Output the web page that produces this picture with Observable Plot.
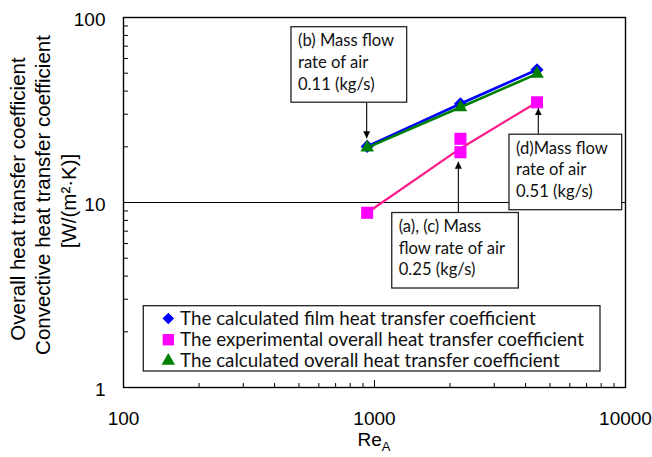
<!DOCTYPE html>
<html><head><meta charset="utf-8">
<script src="https://cdn.jsdelivr.net/npm/d3@7"></script>
<script src="https://cdn.jsdelivr.net/npm/@observablehq/plot@0.6"></script>
<style>body{margin:0;background:#fff;} svg{display:block}</style>
</head><body><div id="chart"></div>
<script>
// ---- data ----
const reA = [935, 2200, 4440];
const filmCoef = [20.1, 34.2, 52.2];          // calculated film heat transfer coefficient
const overallCalc = [19.8, 32.7, 49.6];       // calculated overall heat transfer coefficient
const reExp = [935, 2200, 2200, 4440];
const overallExp = [8.8, 22.1, 18.7, 34.8];   // experimental overall heat transfer coefficient
const expTrend = [8.8, 19.6, 34.8];           // trend line through the experimental points
const seriesNames = [
  "The calculated film heat transfer coefficient",
  "The experimental overall heat transfer coefficient",
  "The calculated overall heat transfer coefficient"
];
const xTickValues = [100, 1000, 10000];
const yTickValues = [1, 10, 100];
const yTitleLines = ["Overall heat transfer coefficient", "Convective heat transfer coefficient", "[W/(m²·K)]"];
const noteLines = [
  ["(b) Mass flow", "rate of air", "0.11 (kg/s)"],
  ["(a), (c) Mass", "flow rate of air", "0.25 (kg/s)"],
  ["(d)Mass flow", "rate of air", "0.51 (kg/s)"]
];
const noteRe = [935, 2200, 4440];
const noteValue = [20.1, 18.7, 34.8];

// ---- styling / layout ----
const BLUE = "#0000ff", MAGENTA = "#ff00ff", GREEN = "#008000", PINK = "#ff1a8c";
const CAL = "Lato, 'Open Sans', sans-serif";
const ARIAL = "'Liberation Sans', Arial, sans-serif";
const W = 652, H = 457, ML = 123, MR = 27, MT = 17, MB = 70;
const PW = W - ML - MR, PH = H - MT - MB;
const noteLayout = [
  {dx: -75.7, dy: -119.2, w: 115.7, ax: 0, tip: -7.6},
  {dx: -68.2, dy: 60.8, w: 126.6, ax: -1.6, tip: 10},
  {dx: -27.5, dy: 32.4, w: 112.7, ax: 1.8, tip: 6.5}
];

const minorX = [], minorY = [];
for (const d of [100, 1000]) for (let k = 2; k <= 9; k++) minorX.push(d * k);
for (const d of [1, 10]) for (let k = 2; k <= 9; k++) minorY.push(d * k);

const film = reA.map((x, i) => ({x, y: filmCoef[i]}));
const calc = reA.map((x, i) => ({x, y: overallCalc[i]}));
const exp = reExp.map((x, i) => ({x, y: overallExp[i]}));
const trend = reA.map((x, i) => ({x, y: expTrend[i]}));

const chart = Plot.plot({
  width: W, height: H,
  marginLeft: ML, marginRight: MR, marginTop: MT, marginBottom: MB,
  style: {fontFamily: ARIAL, fontSize: "19px", background: "white", color: "black", overflow: "visible"},
  x: {type: "log", domain: [100, 10000], label: null},
  y: {type: "log", domain: [1, 100], label: null},
  marks: [
    Plot.ruleY([10], {stroke: "black", strokeWidth: 1}),
    // inward ticks
    Plot.tickX(minorX, {x: d => d, insetTop: PH - 4, stroke: "black", strokeWidth: 1}),
    Plot.tickX(xTickValues, {x: d => d, insetTop: PH - 7, stroke: "black", strokeWidth: 1}),
    Plot.tickY(minorY, {y: d => d, insetRight: PW - 5, stroke: "black", strokeWidth: 1}),
    Plot.axisX({ticks: xTickValues, tickSize: 0, tickPadding: 24, tickFormat: d => String(d), fill: "black"}),
    Plot.axisY({ticks: yTickValues, tickSize: 0, tickPadding: 18, dy: 2, tickFormat: d => String(d), fill: "black"}),
    Plot.frame({stroke: "black", strokeWidth: 1.4}),
    Plot.line(film, {x: "x", y: "y", stroke: BLUE, strokeWidth: 2.6}),
    Plot.dot(film, {x: "x", y: "y", symbol: "diamond2", r: 5.9, fill: BLUE}),
    Plot.line(trend, {x: "x", y: "y", stroke: PINK, strokeWidth: 2.2}),
    Plot.dot(exp, {x: "x", y: "y", symbol: "square", r: 6.8, fill: MAGENTA}),
    Plot.line(calc, {x: "x", y: "y", stroke: GREEN, strokeWidth: 2.6}),
    Plot.dot(calc, {x: "x", y: "y", symbol: "triangle", r: 5, fill: GREEN})
  ]
});
document.getElementById("chart").appendChild(chart);

const svg = d3.select(chart);
const sx = chart.scale("x"), sy = chart.scale("y");

// arrowhead marker
svg.append("defs").append("marker")
  .attr("id", "ah").attr("viewBox", "0 0 10 10").attr("refX", 10).attr("refY", 5)
  .attr("markerWidth", 7).attr("markerHeight", 8).attr("markerUnits", "userSpaceOnUse")
  .attr("orient", "auto")
  .append("path").attr("d", "M0,0L10,5L0,10Z").attr("fill", "black");

// annotations anchored on data points
noteLines.forEach((lines, i) => {
  const L = noteLayout[i];
  const px = sx.apply(noteRe[i]), py = sy.apply(noteValue[i]);
  const bx = px + L.dx, by = py + L.dy, bh = 75.5;
  const g = svg.append("g").attr("text-anchor", "start");
  const ax = px + L.ax;
  const fromY = L.dy < 0 ? by + bh : by;
  g.append("line").attr("x1", ax).attr("x2", ax).attr("y1", fromY).attr("y2", py + L.tip)
    .attr("stroke", "black").attr("stroke-width", 1.1).attr("marker-end", "url(#ah)");
  g.append("rect").attr("x", bx).attr("y", by).attr("width", L.w).attr("height", bh)
    .attr("fill", "white").attr("stroke", "#222").attr("stroke-width", 1.3);
  lines.forEach((t, j) => {
    g.append("text").attr("x", bx + 7).attr("y", by + 13.5 + j * 21.8).attr("dy", "0.35em")
      .attr("text-anchor", "start")
      .attr("font-family", CAL).attr("font-size", 16.6).attr("fill", "#111").text(t);
  });
});

// legend
const lg = svg.append("g").attr("text-anchor", "start");
lg.append("rect").attr("x", 143.3).attr("y", 305.7).attr("width", 456.7).attr("height", 65.3)
  .attr("fill", "white").attr("stroke", "#222").attr("stroke-width", 1.3);
const legSym = [
  {sym: d3.symbolDiamond2, size: Math.PI * 5.2 * 5.2, color: BLUE},
  {sym: d3.symbolSquare, size: Math.PI * 6.4 * 6.4, color: MAGENTA},
  {sym: d3.symbolTriangle, size: Math.PI * 5 * 5, color: GREEN}
];
seriesNames.forEach((name, i) => {
  const cy = 318.5 + i * 21.2;
  lg.append("path").attr("transform", `translate(168.3,${cy})`)
    .attr("d", d3.symbol(legSym[i].sym, legSym[i].size)()).attr("fill", legSym[i].color);
  lg.append("text").attr("x", 180).attr("y", cy).attr("dy", "0.35em").attr("text-anchor", "start")
    .attr("font-family", CAL).attr("font-size", 18.8).attr("fill", "#111").text(name);
});

// y-axis title
const yt = [{x: 25, y: 199}, {x: 50, y: 195}, {x: 76, y: 201}];
yTitleLines.forEach((t, i) => {
  svg.append("text").attr("transform", `translate(${yt[i].x},${yt[i].y}) rotate(-90)`)
    .attr("text-anchor", "middle").attr("font-family", ARIAL).attr("font-size", 20.5)
    .attr("fill", "black").text(t);
});

// x-axis title with subscript
const xt = svg.append("text").attr("x", sx.apply(1000)).attr("y", 446).attr("text-anchor", "middle")
  .attr("font-family", ARIAL).attr("font-size", 19).attr("fill", "black");
xt.append("tspan").text("Re");
xt.append("tspan").attr("font-size", 13).attr("dy", 5).text("A");
</script>
</body></html>
